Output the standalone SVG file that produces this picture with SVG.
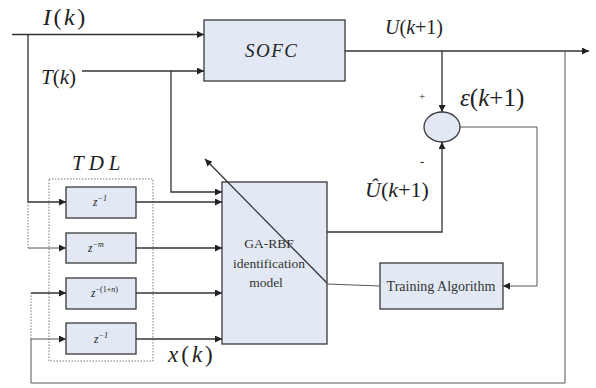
<svg xmlns="http://www.w3.org/2000/svg" width="596" height="388" viewBox="0 0 596 388">
<defs>
<marker id="ah" viewBox="0 0 10 10" refX="10" refY="5" markerWidth="8" markerHeight="7" markerUnits="userSpaceOnUse" orient="auto">
<path d="M0,0 L10,5 L0,10 Z" fill="#222"/>
</marker>
<style>
.blk{fill:#e2e9f4;stroke:#3a3a3a;stroke-width:1.3}
.ln{fill:none;stroke:#333;stroke-width:1.3}
.lt{fill:none;stroke:#555;stroke-width:1}
.dot{fill:none;stroke:#777;stroke-width:1;stroke-dasharray:1.5 1.5}
.m{fill:#222}
.i{font-style:italic}
.lbl{fill:#333;text-anchor:middle}
</style>
</defs>
<rect width="596" height="388" fill="#fff"/>

<g font-family="Liberation Serif, Times New Roman, serif">
<g id="tdl">
<rect x="49" y="179" width="104" height="182" class="dot"/>
<text class="m i" x="72" y="170" font-size="21" letter-spacing="5">TDL</text>
</g>

<g id="delay1">
<rect class="blk" x="66" y="187" width="70" height="31"/>
<text class="m i" x="93" y="206" font-size="11.5">z<tspan font-size="8" dy="-5">−1</tspan></text>
</g>
<g id="delay2">
<rect class="blk" x="66" y="233" width="70" height="30"/>
<text class="m i" x="88" y="252" font-size="11.5">z<tspan font-size="8" dy="-5">−m</tspan></text>
</g>
<g id="delay3">
<rect class="blk" x="66" y="278" width="70" height="31"/>
<text class="m i" x="91" y="297" font-size="11.5">z<tspan font-size="8" dy="-5" font-style="normal">−(1+<tspan font-style="italic">n</tspan>)</tspan></text>
</g>
<g id="delay4">
<rect class="blk" x="66" y="323" width="70" height="31"/>
<text class="m i" x="94" y="343" font-size="11.5">z<tspan font-size="8" dy="-5">−1</tspan></text>
</g>

<g id="sofc">
<rect class="blk" x="204" y="20" width="141" height="61"/>
<text class="m i" x="245" y="57" font-size="19" letter-spacing="1.5">SOFC</text>
</g>

<g id="garbf">
<rect class="blk" x="222" y="182" width="105" height="162"/>
<text class="lbl" x="269" y="248" font-size="13.5">GA-RBF</text>
<text class="lbl" x="269" y="268" font-size="13.5">identification</text>
<text class="lbl" x="266" y="287" font-size="13.5">model</text>
</g>

<g id="sum">
<ellipse class="blk" cx="442" cy="127" rx="18" ry="15"/>
</g>

<g id="training">
<rect class="blk" x="380" y="263" width="123" height="46"/>
<text class="lbl" x="441" y="291" font-size="14">Training Algorithm</text>
</g>

<g id="labels">
<text class="m" x="43" y="25" font-size="24" letter-spacing="2.5"><tspan class="i">I</tspan>(<tspan class="i">k</tspan>)</text>
<text class="m" x="41" y="84" font-size="21"><tspan class="i">T</tspan>(<tspan class="i">k</tspan>)</text>
<text class="m" x="385" y="34" font-size="20"><tspan class="i">U</tspan>(<tspan class="i">k</tspan>+1)</text>
<text class="m" x="419" y="100" font-size="11">+</text>
<text class="m" x="460" y="106" font-size="25"><tspan class="i">ε</tspan>(<tspan class="i">k</tspan>+1)</text>
<text class="m" x="420" y="166" font-size="13">-</text>
<text class="m" x="365" y="197" font-size="22"><tspan class="i">Û</tspan>(<tspan class="i">k</tspan>+1)</text>
<text class="m" x="168" y="362" font-size="23" letter-spacing="3"><tspan class="i">x</tspan>(<tspan class="i">k</tspan>)</text>
</g>
</g>

<g id="connectors">
<path class="ln" d="M12,34.5 H204" marker-end="url(#ah)"/>
<path class="ln" d="M28,34.5 V202 H66" marker-end="url(#ah)"/>
<path class="dot" d="M28,202 V248"/>
<path class="lt" d="M28,248 H66" marker-end="url(#ah)"/>
<path class="ln" d="M82,71 H204" marker-end="url(#ah)"/>
<path class="ln" d="M171,71 V192 H222" marker-end="url(#ah)"/>
<path class="ln" d="M136,202 H222" marker-end="url(#ah)"/>
<path class="ln" d="M136,248 H222" marker-end="url(#ah)"/>
<path class="ln" d="M136,293 H222" marker-end="url(#ah)"/>
<path class="ln" d="M136,339 H222" marker-end="url(#ah)"/>
<path class="ln" d="M345,51 H589" marker-end="url(#ah)"/>
<path class="ln" d="M442,51 V112" marker-end="url(#ah)"/>
<path class="ln" d="M327,232 H442 V142" marker-end="url(#ah)"/>
<path class="lt" d="M460,127 H537 V286 H503" marker-end="url(#ah)"/>
<path class="lt" d="M327,284 L380,286"/>
<path class="ln" d="M327,283 L205,159" marker-end="url(#ah)"/>
<path class="lt" d="M565,51 V383 H31 V339 H66" marker-end="url(#ah)"/>
<path class="dot" d="M31,339 V293"/>
<path class="ln" d="M31,293 H66" marker-end="url(#ah)"/>
</g>
</svg>
